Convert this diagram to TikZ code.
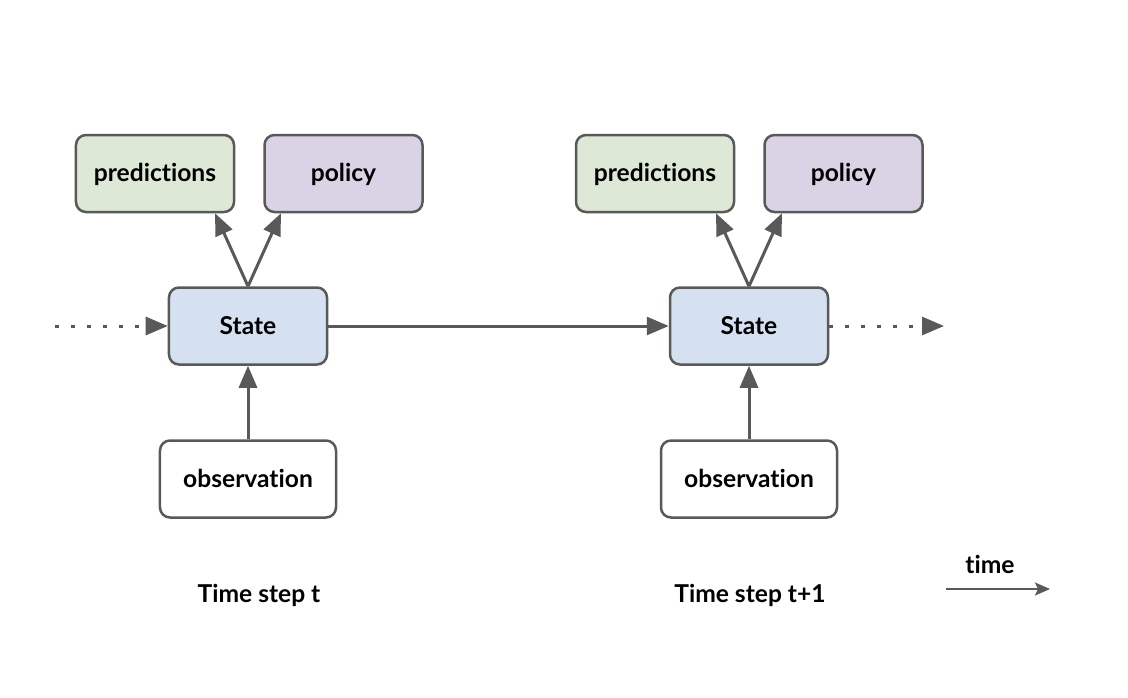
\documentclass[tikz,border=0pt]{standalone}
\usepackage{fontspec}
\setmainfont{Lato}[Ligatures=NoCommon]
\usetikzlibrary{arrows.meta}
\definecolor{edgegray}{HTML}{595959}
\definecolor{predgreen}{HTML}{DDE8D6}
\definecolor{polpurple}{HTML}{D9D3E5}
\definecolor{stateblue}{HTML}{D5E1F1}
\begin{document}
\begin{tikzpicture}[x=0.2mm, y=-0.2mm, >={Triangle[length=4.4mm, width=3.6mm]},
    box/.style={draw=edgegray, line width=0.5mm, rounded corners=2mm, minimum width=31.6mm, minimum height=15.4mm, text depth=0.1em, font=\fontsize{14}{16}\selectfont\bfseries},
    flow/.style={draw=edgegray, line width=0.6mm, ->},
    dots/.style={flow, dash pattern=on 0.8mm off 2.4mm},
    caption/.style={font=\fontsize{14}{16}\selectfont\bfseries}]
    \useasboundingbox (0,0) rectangle (1128,698);

    % time step t
    \node[box, fill=predgreen, name=pred0] at (155,173.5) {predictions};
    \node[box, fill=polpurple, name=pol0] at (343.5,173.5) {policy};
    \node[box, fill=stateblue, name=state0] at (248,326) {State};
    \node[box, fill=white, minimum width=35.2mm, name=obs0] at (248,479) {observation};
    \node[caption, name=step0] at (259,595) {Time step t};

    % time step t+1
    \node[box, fill=predgreen, name=pred1] at (655,173.5) {predictions};
    \node[box, fill=polpurple, name=pol1] at (843.5,173.5) {policy};
    \node[box, fill=stateblue, name=state1] at (749,326) {State};
    \node[box, fill=white, minimum width=35.2mm, name=obs1] at (749,479) {observation};
    \node[caption, name=step1] at (750,595) {Time step t+1};

    \coordinate (start) at (55,326);
    \coordinate (end) at (944,326);

    \draw [flow] (state0.north) -- (pred0.south -| 215,0);
    \draw [flow] (state0.north) -- (pol0.south -| 281,0);
    \draw [flow] (obs0) -- (state0);
    \draw [flow] (state1.north) -- (pred1.south -| 716,0);
    \draw [flow] (state1.north) -- (pol1.south -| 782,0);
    \draw [flow] (obs1) -- (state1);
    \draw [flow] (state0) -- (state1);
    \draw [dots] (start) -- (state0);
    \draw [dots] (state1) -- (end);

    % time axis
    \node[caption, name=timelabel] at (990,564) {time};
    \coordinate (t0) at (946,589);
    \coordinate (t1) at (1050,589);
    \draw [draw=edgegray, line width=0.4mm, -{Stealth[length=3mm, width=2.6mm, inset=0.6mm]}] (t0) -- (t1);
\end{tikzpicture}
\end{document}
